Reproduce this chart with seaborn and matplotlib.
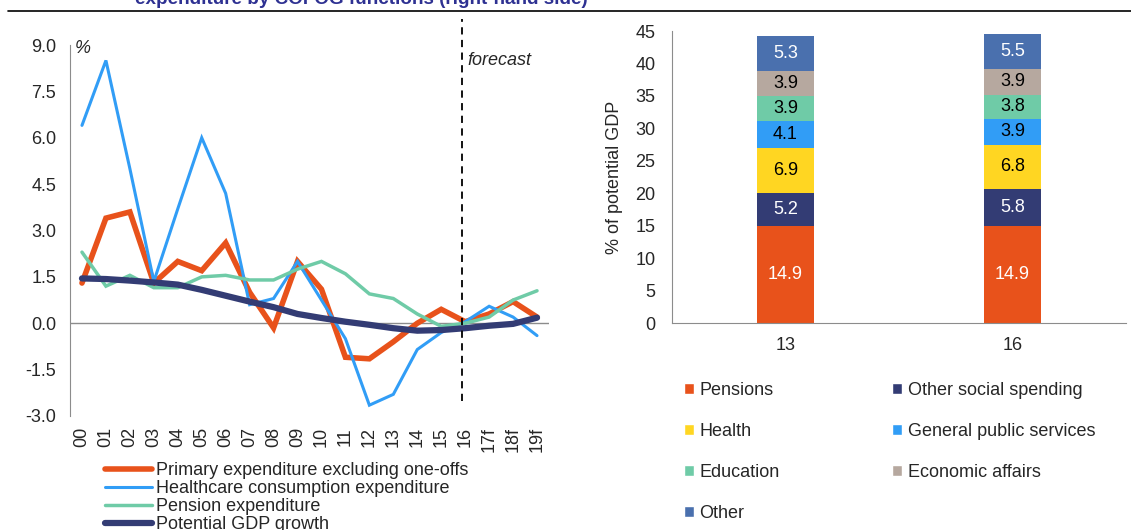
import numpy as np
import matplotlib
matplotlib.use('Agg')
import matplotlib.pyplot as plt
from matplotlib.lines import Line2D
from matplotlib.patches import Patch
import seaborn as sns

# left panel: growth rates, %
years = ['00', '01', '02', '03', '04', '05', '06', '07', '08', '09',
         '10', '11', '12', '13', '14', '15', '16', '17f', '18f', '19f']
primary = [1.3, 3.4, 3.6, 1.3, 2.0, 1.7, 2.6, 1.0, -0.15, 2.0,
           1.1, -1.1, -1.15, -0.6, 0.0, 0.45, 0.05, 0.3, 0.7, 0.2]
healthcare = [6.4, 8.5, 5.0, 1.35, 3.7, 6.0, 4.2, 0.6, 0.8, 2.0,
              0.75, -0.5, -2.65, -2.3, -0.85, -0.3, 0.05, 0.55, 0.2, -0.4]
pension = [2.3, 1.2, 1.55, 1.15, 1.15, 1.5, 1.55, 1.4, 1.4, 1.75,
           2.0, 1.6, 0.95, 0.8, 0.3, -0.1, 0.0, 0.2, 0.75, 1.05]
potential = [1.45, 1.43, 1.38, 1.32, 1.25, 1.08, 0.89, 0.7, 0.52, 0.3,
             0.17, 0.05, -0.05, -0.16, -0.24, -0.22, -0.16, -0.08, -0.02, 0.18]
forecast_start = 15.88

# right panel: % of potential GDP
bar_years = ['13', '16']
pensions = [14.9, 14.9]
other_social = [5.2, 5.8]
health = [6.9, 6.8]
gen_public = [4.1, 3.9]
education = [3.9, 3.8]
econ_affairs = [3.9, 3.9]
other = [5.3, 5.5]

ORANGE = '#E8521B'
BLUE = '#319DF6'
GREEN = '#6FCBA7'
NAVY = '#333C74'
YELLOW = '#FFD622'
TAN = '#B6A89F'
STEEL = '#4A70AE'
GRAY = '#8C8C8C'

sns.set_style('white')
plt.rcParams['font.family'] = ['Liberation Sans', 'DejaVu Sans']
FS = 13

W, H = 1131, 530
fig = plt.figure(figsize=(W / 100, H / 100), dpi=100)

# title remnant (cut at the top edge, as in the source) and rule
fig.text(135 / W, 1 - 4 / H, 'expenditure by COFOG functions (right-hand side)',
         color='#2E3192', weight='bold', fontsize=13.6, va='baseline', ha='left')
fig.add_artist(Line2D([8 / W, 1], [1 - 11 / H] * 2, color='black', lw=1.2))

# ---------------- left panel ----------------
ax1 = fig.add_axes([70 / W, 1 - 416 / H, 479 / W, 371 / H])
x = np.arange(len(years))
series = [
    (primary, ORANGE, 4.0, 'Primary expenditure excluding one-offs'),
    (healthcare, BLUE, 2.2, 'Healthcare consumption expenditure'),
    (pension, GREEN, 2.5, 'Pension expenditure'),
    (potential, NAVY, 4.5, 'Potential GDP growth'),
]
handles = []
for vals, col, lw, lab in series:
    sns.lineplot(x=x, y=vals, color=col, linewidth=lw, ax=ax1,
                 solid_capstyle='round', solid_joinstyle='miter')
    handles.append(Line2D([], [], color=col, lw=lw, label=lab))

ax1.axhline(0, color=GRAY, lw=1, zorder=0)
ax1.vlines(forecast_start, -2.5, 9.85, colors='black', lw=1.3,
           linestyles=(0, (4, 3)), clip_on=False)
ax1.text(16.1, 8.5, 'forecast', style='italic', fontsize=FS, va='center', ha='left')
ax1.text(-0.3, 8.9, '%', style='italic', fontsize=FS, va='center', ha='left')

ax1.set_xlim(-0.5, 19.5)
ax1.set_ylim(-3, 9)
ax1.set_yticks(np.arange(-3, 9.1, 1.5))
ax1.set_yticklabels([f'{v:.1f}' for v in np.arange(-3, 9.1, 1.5)])
ax1.set_xticks(x)
ax1.set_xticklabels(years, rotation=90)
ax1.tick_params(axis='y', length=0, pad=10, labelsize=FS)
ax1.tick_params(axis='x', length=0, pad=8, labelsize=FS)
for s in ['top', 'right', 'bottom']:
    ax1.spines[s].set_visible(False)
ax1.spines['left'].set_color(GRAY)
ax1.set_xlabel('')
ax1.set_ylabel('')

fig.legend(handles=handles, loc='upper left', bbox_to_anchor=(105 / W, 1 - 462 / H),
           frameon=False, fontsize=FS, handlelength=2.6, handletextpad=0.2,
           labelspacing=0.06, borderpad=0, borderaxespad=0)

# ---------------- right panel ----------------
ax2 = fig.add_axes([672 / W, 1 - 323 / H, 454 / W, 292 / H])
segments = [
    ('Pensions', pensions, ORANGE, 'white'),
    ('Other social spending', other_social, NAVY, 'white'),
    ('Health', health, YELLOW, 'black'),
    ('General public services', gen_public, BLUE, 'black'),
    ('Education', education, GREEN, 'black'),
    ('Economic affairs', econ_affairs, TAN, 'black'),
    ('Other', other, STEEL, 'white'),
]
bottom = np.zeros(len(bar_years))
for name, vals, col, tcol in segments:
    sns.barplot(x=bar_years, y=vals, bottom=bottom, color=col, width=0.25,
                saturation=1, errorbar=None, ax=ax2, linewidth=0)
    ax2.bar_label(ax2.containers[-1], labels=[f'{v:.1f}' for v in vals],
                  label_type='center', color=tcol, fontsize=FS)
    bottom = bottom + np.array(vals)

ax2.set_xlim(-0.5, 1.5)
ax2.set_ylim(0, 45)
ax2.set_yticks(range(0, 46, 5))
ax2.tick_params(axis='y', length=0, pad=12, labelsize=FS)
ax2.tick_params(axis='x', length=0, pad=10, labelsize=FS)
for s in ['top', 'right']:
    ax2.spines[s].set_visible(False)
for s in ['left', 'bottom']:
    ax2.spines[s].set_color(GRAY)
ax2.set_xlabel('')
ax2.set_ylabel('% of potential GDP', fontsize=FS, labelpad=9)

order = [0, 2, 4, 6, 1, 3, 5]
patches = [Patch(facecolor=segments[i][2], label=segments[i][0]) for i in order]
fig.legend(handles=patches, loc='upper left', ncol=2,
           bbox_to_anchor=(684 / W, 1 - 382 / H), frameon=False, fontsize=FS,
           handlelength=0.55, handleheight=0.55, handletextpad=0.3,
           labelspacing=1.33, columnspacing=6.25, borderpad=0, borderaxespad=0)

fig.savefig('out.png', dpi=100)
